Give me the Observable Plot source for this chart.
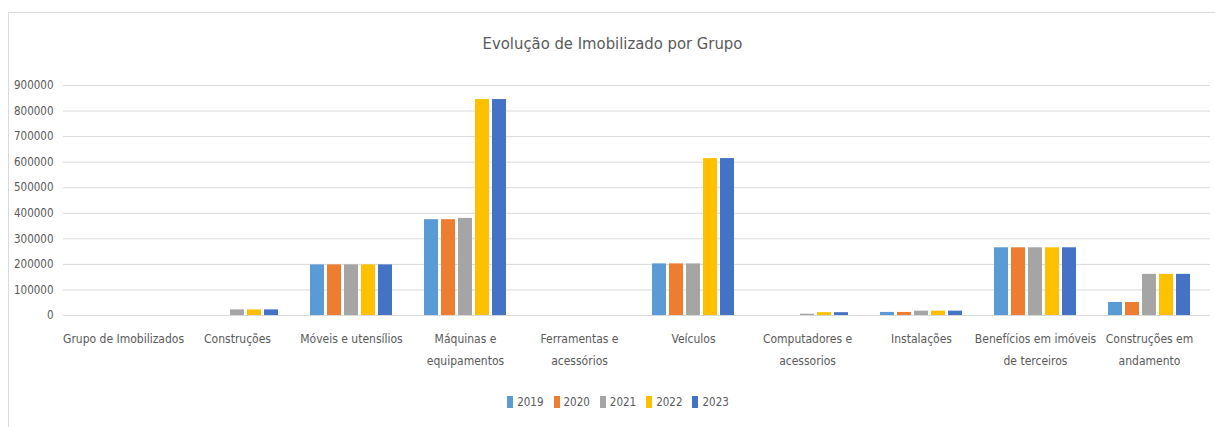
<!DOCTYPE html>
<html><head><meta charset="utf-8">
<script src="https://cdn.jsdelivr.net/npm/d3@7"></script>
<script src="https://cdn.jsdelivr.net/npm/@observablehq/plot@0.6"></script>
<style>
body{margin:0;background:#fff;font-family:"Liberation Sans Narrow","DejaVu Sans Condensed",sans-serif;}
#wrap{position:relative;width:1215px;height:427px;overflow:hidden;background:#fff;}
#frame{position:absolute;left:8px;top:12px;width:1220px;height:430px;border-left:1px solid #d9d9d9;border-top:1px solid #d9d9d9;}
#title{position:absolute;left:0;width:1225px;top:29px;height:30px;line-height:30px;text-align:center;font-size:16.5px;color:#595959;}
#chart{position:absolute;left:0;top:70px;width:1215px;height:310px;}
#chart svg{position:absolute;left:0;top:0;background:transparent;}
#legend{position:absolute;left:0;width:1246px;top:392px;height:20px;display:flex;justify-content:center;align-items:center;font-size:11.5px;color:#595959;}
#legend .item{display:flex;align-items:center;margin-right:10px;}
#legend .sw{width:6px;height:12px;margin-right:4px;}
</style></head>
<body>
<div id="wrap">
  <div id="frame"></div>
  <div id="title">Evolução de Imobilizado por Grupo</div>
  <div id="chart"></div>
  <div id="legend"></div>
</div>
<script>
const categories = ["Grupo de Imobilizados","Construções","Móveis e utensílios","Máquinas e equipamentos","Ferramentas e acessórios","Veículos","Computadores e acessorios","Instalações","Benefícios em imóveis de terceiros","Construções em andamento"];
const tickLabels = ["Grupo de Imobilizados","Construções","Móveis e utensílios","Máquinas e\nequipamentos","Ferramentas e\nacessórios","Veículos","Computadores e\nacessorios","Instalações","Benefícios em imóveis\nde terceiros","Construções em\nandamento"];
const years = ["2019","2020","2021","2022","2023"];
const colors = ["#5B9BD5","#ED7D31","#A5A5A5","#FFC000","#4472C4"];
const v2019 = [0, 0, 198000, 375000, 0, 202000, 0, 12000, 265000, 51000];
const v2020 = [0, 0, 198000, 375000, 0, 202000, 0, 12000, 265000, 51000];
const v2021 = [0, 22000, 198000, 380000, 0, 202000, 5000, 17000, 265000, 161000];
const v2022 = [0, 22000, 198000, 845000, 0, 614000, 11000, 17000, 265000, 161000];
const v2023 = [0, 22000, 198000, 845000, 0, 614000, 11000, 17000, 265000, 161000];
const yTicks = [0,100000,200000,300000,400000,500000,600000,700000,800000,900000];

const series = [v2019, v2020, v2021, v2022, v2023];
const rows = [];
categories.forEach((c, i) => years.forEach((y, j) => rows.push({cat: c, year: y, value: series[j][i]})));

const font = '"Liberation Sans Narrow","DejaVu Sans Condensed",sans-serif';
const common = {width: 1215, height: 310, marginTop: 15, marginBottom: 65, marginLeft: 63, marginRight: 5,
  style: {fontFamily: font, fontSize: "11.5px", color: "#595959", background: "transparent"}};

const grid = Plot.plot({...common,
  y: {domain: [0, 900000]},
  marks: [
    Plot.gridY(yTicks, {stroke: "#d9d9d9", strokeOpacity: 1, strokeWidth: 1}),
    Plot.axisY(yTicks, {tickSize: 0, tickPadding: 10, tickFormat: d3.format("d"), label: null, fill: "#595959", fontSize: 11.5})
  ]
});

const bars = Plot.plot({...common,
  fx: {domain: categories, paddingInner: 0.26, paddingOuter: 0.14},
  x: {domain: years, paddingInner: 0.17, paddingOuter: 0, axis: null},
  y: {domain: [0, 900000], axis: null},
  color: {domain: years, range: colors},
  marks: [
    Plot.barY(rows.filter(d => d.value > 0), {fx: "cat", x: "year", y: "value", fill: "year"}),
    Plot.axisFx({anchor: "bottom", tickSize: 0, tickPadding: 11, lineHeight: 1.9, label: null, fill: "#595959", fontSize: 12,
      tickFormat: d => tickLabels[categories.indexOf(d)]})
  ]
});

const chart = document.getElementById("chart");
chart.appendChild(grid);
chart.appendChild(bars);

const color = bars.scale("color");
const legend = document.getElementById("legend");
years.forEach(y => {
  const item = document.createElement("div");
  item.className = "item";
  const sw = document.createElement("div");
  sw.className = "sw";
  sw.style.background = color.apply(y);
  const t = document.createElement("span");
  t.textContent = y;
  item.appendChild(sw); item.appendChild(t);
  legend.appendChild(item);
});
</script>
</body></html>
